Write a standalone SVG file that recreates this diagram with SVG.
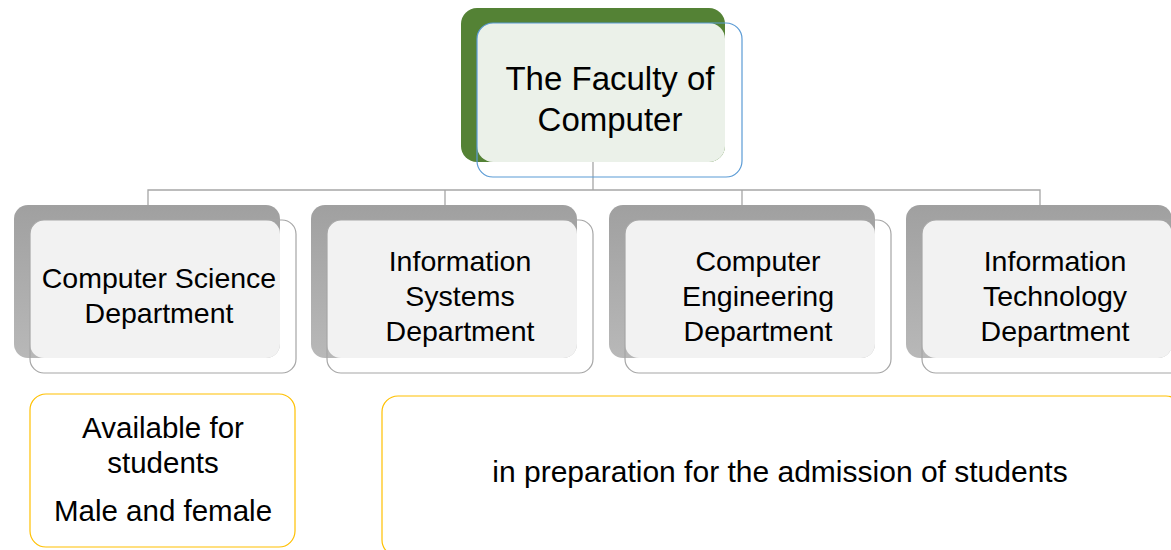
<svg xmlns="http://www.w3.org/2000/svg" width="1171" height="550" viewBox="0 0 1171 550">
<defs>
<linearGradient id="sh" x1="0" y1="0" x2="0" y2="1">
<stop offset="0" stop-color="#a0a0a0"/>
<stop offset="1" stop-color="#b8b8b8"/>
</linearGradient>
</defs>
<style>
text{font-family:"Liberation Sans",Arial,sans-serif;fill:#000;text-anchor:middle}
.t{font-size:33px}
.d{font-size:28.5px}
.n{font-size:29.5px}
.shadow{fill:url(#sh)}
.dfill{fill:#f2f2f2}
.dbox{fill:none;stroke:#a6a6a6;stroke-width:1.2}
.ybox{fill:#fff;stroke:#ffc000;stroke-width:1.2}
.conn{fill:none;stroke:#a6a6a6;stroke-width:1.3}
</style>
<rect width="1171" height="550" fill="#fff"/>
<g id="connectors">
<path class="conn" d="M593 162V190M148 205V190H1040V205M445 190V205M742 190V205"/>
</g>
<g id="faculty">
<rect x="461" y="8" width="264" height="154" rx="16" fill="#548235"/>
<rect x="477" y="23" width="248" height="139" rx="16" fill="#ebf1e9"/>
<rect x="477" y="23" width="265" height="154" rx="16" fill="none" stroke="#5b9bd5" stroke-width="1.2"/>
<text class="t" x="610" y="90">The Faculty of</text>
<text class="t" x="610" y="131">Computer</text>
</g>
<g id="cs">
<rect class="shadow" x="14" y="205" width="266" height="153" rx="14"/>
<rect class="dfill" x="30" y="220" width="250" height="138" rx="14"/>
<rect class="dbox" x="30" y="220" width="266" height="153" rx="14"/>
<text class="d" x="159" y="288">Computer Science</text>
<text class="d" x="159" y="323">Department</text>
</g>
<g id="is">
<rect class="shadow" x="311" y="205" width="266" height="153" rx="14"/>
<rect class="dfill" x="327" y="220" width="250" height="138" rx="14"/>
<rect class="dbox" x="327" y="220" width="266" height="153" rx="14"/>
<text class="d" x="460" y="271">Information</text>
<text class="d" x="460" y="306">Systems</text>
<text class="d" x="460" y="341">Department</text>
</g>
<g id="ce">
<rect class="shadow" x="609" y="205" width="266" height="153" rx="14"/>
<rect class="dfill" x="625" y="220" width="250" height="138" rx="14"/>
<rect class="dbox" x="625" y="220" width="266" height="153" rx="14"/>
<text class="d" x="758" y="271">Computer</text>
<text class="d" x="758" y="306">Engineering</text>
<text class="d" x="758" y="341">Department</text>
</g>
<g id="it">
<rect class="shadow" x="906" y="205" width="266" height="153" rx="14"/>
<rect class="dfill" x="922" y="220" width="250" height="138" rx="14"/>
<rect class="dbox" x="922" y="220" width="266" height="153" rx="14"/>
<text class="d" x="1055" y="271">Information</text>
<text class="d" x="1055" y="306">Technology</text>
<text class="d" x="1055" y="341">Department</text>
</g>
<g id="available">
<rect class="ybox" x="30" y="394" width="265" height="153" rx="16"/>
<text class="n" x="163" y="438">Available for</text>
<text class="n" x="163" y="473">students</text>
<text class="n" x="163" y="521">Male and female</text>
</g>
<g id="preparation">
<rect class="ybox" x="382" y="396" width="800" height="160" rx="16"/>
<text class="n" x="780" y="482" style="font-size:30px">in preparation for the admission of students</text>
</g>
</svg>
